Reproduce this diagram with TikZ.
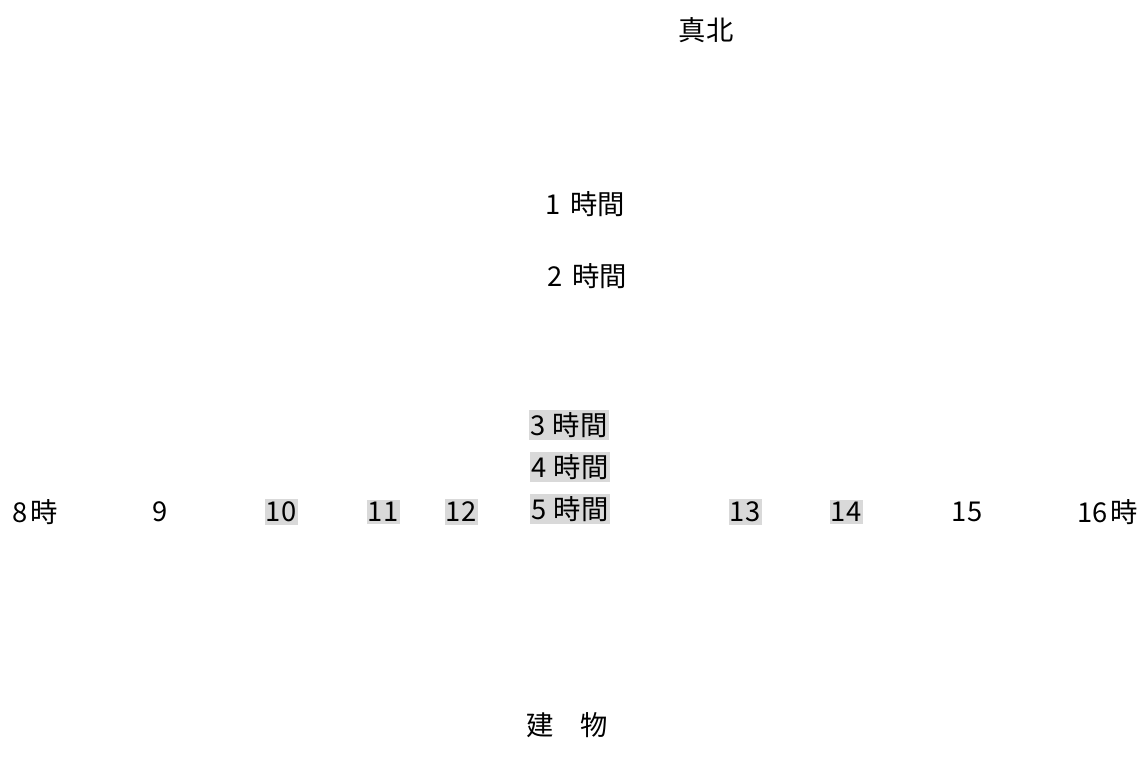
\documentclass[tikz,border=0pt]{standalone}
\usepackage{fontspec}
\newfontfamily\jp{Noto Sans CJK JP}
\begin{document}
\begin{tikzpicture}[x=0.75pt,y=-0.75pt,
  lbl/.style={font=\jp\fontsize{20.5}{22}\selectfont, inner sep=1pt, text=black},
  hl/.style={lbl, fill=black!15, inner xsep=1pt, inner ysep=2pt}]
\useasboundingbox (0,0) rectangle (1141,767);
\node[lbl] (north) at (706,30) {真北};
\node[lbl] (h1) at (585,204) {1\hspace{0.35em}時間};
\node[lbl] (h2) at (587,276) {2\hspace{0.35em}時間};
\node[hl] (h3) at (569,425) {3\hspace{0.25em}時間};
\node[hl] (h4) at (570,467) {4\hspace{0.25em}時間};
\node[hl] (h5) at (570,509) {5\hspace{0.25em}時間};
\node[lbl] (t8) at (35,512) {8\hspace{0.1em}時};
\node[lbl] (t9) at (160,512) {9};
\node[hl] (t10) at (281,512) {10};
\node[hl] (t11) at (383,512) {11};
\node[hl] (t12) at (461,512) {12};
\node[hl] (t13) at (745,512) {13};
\node[hl] (t14) at (846,512) {14};
\node[lbl] (t15) at (967,512) {15};
\node[lbl] (t16) at (1108,512) {16\hspace{0.1em}時};
\node[lbl] (bldg) at (567,725) {建\hspace{1em}物};
\end{tikzpicture}
\end{document}
